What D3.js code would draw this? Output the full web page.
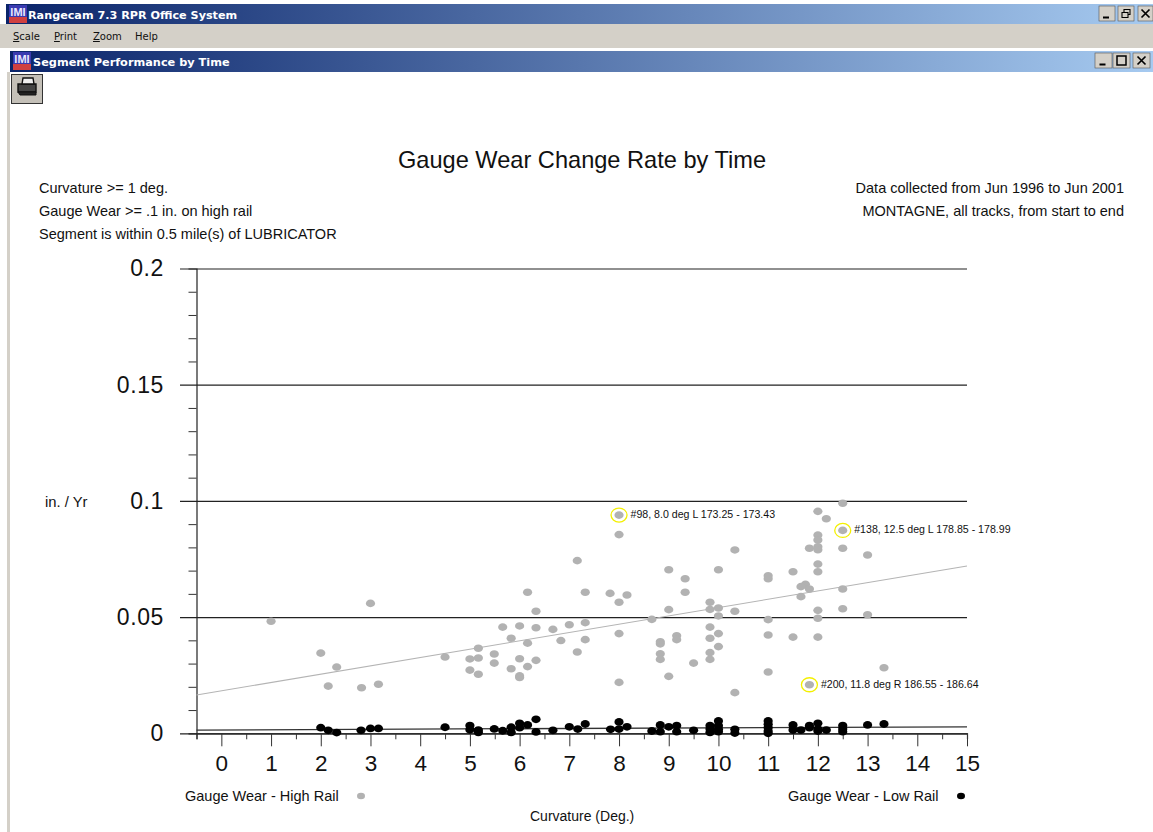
<!DOCTYPE html>
<html>
<head>
<meta charset="utf-8">
<script src="https://cdn.jsdelivr.net/npm/d3@7"></script>
<style>
  html, body { margin:0; padding:0; background:#fff; overflow:hidden; }
  text { font-family:"Liberation Sans", Arial, sans-serif; fill:#111; }
</style>
</head>
<body>
<div id="chart"></div>
<script>
// curvature (deg), wear rate (in/yr)
const highRail = [
  [1,.0482],[3,.0559],[2,.0345],[2.15,.0203],[2.32,.0285],[2.82,.0196],[3.16,.0211],[4.5,.0328],
  [5,.032],[5.17,.0324],[5.17,.0366],[5,.0272],[5.17,.0254],[8,.0939],[8,.0855],[7.16,.0743],
  [6.16,.0607],[7.32,.0607],[7.82,.0602],[8.16,.0595],[8,.0564],[6.33,.0525],[5.66,.0457],[6,.0462],
  [6.33,.0454],[6.67,.0447],[7,.0467],[7.32,.0476],[8,.0429],[5.83,.0409],[6.16,.0388],[6.83,.0399],
  [7.32,.0403],[7.16,.035],[5.49,.0341],[5.49,.0302],[6,.0321],[6.33,.0314],[6.16,.0287],[5.83,.0278],
  [6,.0247],[6,.024],[8,.0219],[8.66,.049],[9,.0532],[9,.0704],[9.33,.0665],[9.33,.0607],
  [10,.0704],[10.33,.0789],[9.83,.0564],[9.83,.0533],[10,.0539],[10,.0505],[10.33,.0525],[9.83,.0457],
  [10,.0429],[9.83,.0409],[10,.0373],[9.83,.0347],[9.83,.0318],[8.83,.0394],[8.83,.0385],[8.83,.0342],
  [8.83,.0318],[9.16,.042],[9.16,.0403],[9.5,.0302],[9,.0245],[10.33,.0175],[12.5,.099],[12,.0955],
  [12.17,.0923],[12.5,.0873],[12,.0853],[12,.0832],[11.83,.0796],[12,.0803],[12,.079],[12.5,.0796],
  [13,.0767],[12,.0728],[12,.0695],[11.5,.0695],[11,.0678],[11,.0665],[11.75,.0641],[11.66,.0631],
  [11.83,.0621],[12.5,.0621],[11.66,.0588],[12,.0529],[12.5,.0536],[13,.051],[11,.0489],[12,.0495],
  [11,.0423],[11.5,.0414],[12,.0414],[13.33,.0282],[11,.0264],[11.83,.0209]
];
const lowRail = [
  [2,.0024],[2.15,.0013],[2.32,.0003],[2.81,.0013],[3,.0021],[3.16,.0021],[4.5,.0026],[5,.0033],
  [5,.0015],[5.17,.0014],[5.17,.0004],[5.49,.0019],[5.66,.0011],[5.83,.0026],[5.83,.0004],[6,.0043],
  [6,.0024],[6.16,.0036],[6.33,.006],[6.33,.0006],[6.67,.0013],[7,.0028],[7.17,.0018],[7.32,.004],
  [7.83,.0017],[8,.0049],[8,.0018],[8.16,.0028],[8.66,.001],[8.83,.0036],[8.83,.0007],[9,.0028],
  [9.16,.0033],[9.16,.0007],[9.5,.0013],[9.83,.0033],[9.83,.0018],[9.83,.0004],[10,.0053],[10,.0033],
  [10,.0017],[10,.0007],[10.33,.0017],[10.33,.0001],[11,.0053],[11,.0039],[11,.0025],[11,.001],
  [11,0],[11.5,.0036],[11.5,.0014],[11.66,.0014],[11.83,.0033],[11.83,.0024],[12,.0043],[12,.0018],
  [12,.001],[12.17,.0014],[12.5,.0033],[12.5,.0018],[12.5,.0007],[13,.0036],[13.33,.004]
];
const highTrend = [[-0.5,.0165],[15,.072]];
const lowTrend = [[-0.5,.0014],[15,.0028]];
const calloutX = [8,12.5,11.83];
const calloutY = [.0939,.0873,.0209];
const calloutText = ['#98, 8.0 deg L 173.25 - 173.43','#138, 12.5 deg L 178.85 - 178.99','#200, 11.8 deg R 186.55 - 186.64'];
const xMajor = d3.range(0,16);
const xMinor = [-0.5,0.5,1.5,2.5,3.5,4.5,5.5,6.5,7.5,8.5,9.5,10.5,11.5,12.5,13.5,14.5];
const yMajor = [0,0.05,0.1,0.15,0.2];
const yLabels = ['0','0.05','0.1','0.15','0.2'];
const yMinor = d3.range(0,21).map(d=>d/100).filter(d=>d%0.05>1e-6 && 0.05-d%0.05>1e-6);
const leftNotes = ['Curvature >= 1 deg.','Gauge Wear >= .1 in. on high rail','Segment is within 0.5 mile(s) of LUBRICATOR'];
const rightNotes = ['Data collected from Jun 1996 to Jun 2001','MONTAGNE, all tracks, from start to end'];

const W = 1153, H = 832;
const svg = d3.select('#chart').append('svg').attr('width',W).attr('height',H).style('display','block');
const defs = svg.append('defs');
const grad = defs.append('linearGradient').attr('id','bar');
grad.append('stop').attr('offset','0').attr('stop-color','#0a246a');
grad.append('stop').attr('offset','1').attr('stop-color','#a6caf0');

// window chrome
function icon(x,y) {
  svg.append('rect').attr('x',x).attr('y',y).attr('width',18).attr('height',18).attr('fill','#3a3ab0');
  svg.append('rect').attr('x',x).attr('y',y+12).attr('width',18).attr('height',6).attr('fill','#d04040');
  svg.append('text').attr('x',x+9).attr('y',y+11).attr('text-anchor','middle').attr('font-size',11)
    .attr('font-weight','bold').style('fill','#e8e8ff').text('IMI');
}
function winButton(x,y,w,kind) {
  svg.append('rect').attr('x',x).attr('y',y).attr('width',w).attr('height',15).attr('fill','#d4d0c8')
    .attr('stroke','#555').attr('stroke-width',0.6);
  const g = svg.append('g').attr('fill','none').attr('stroke','#000').attr('stroke-width',1.5);
  const cx = x+w/2, cy = y+7.5;
  if (kind=='min') g.append('path').attr('d',`M${cx-4},${cy+4}h6`).attr('stroke-width',2);
  if (kind=='max') g.append('rect').attr('x',cx-4.5).attr('y',cy-4.5).attr('width',9).attr('height',9);
  if (kind=='restore') g.append('path').attr('d',`M${cx-4},${cy-1}h6v5h-6zM${cx-2},${cy-1}v-3h6v5h-2`).attr('stroke-width',1.1);
  if (kind=='close') g.append('path').attr('d',`M${cx-4},${cy-4}l8,8M${cx+4},${cy-4}l-8,8`).attr('stroke-width',1.7);
}
svg.append('rect').attr('x',6).attr('y',4).attr('width',W-6).attr('height',20).attr('fill','url(#bar)');
svg.append('rect').attr('x',0).attr('y',24).attr('width',W).attr('height',24).attr('fill','#d4d0c8');
svg.append('rect').attr('x',10).attr('y',51).attr('width',W-10).attr('height',21).attr('fill','url(#bar)');
svg.append('rect').attr('x',7).attr('y',72).attr('width',3).attr('height',H-72).attr('fill','#d4d0c8');
icon(9,5);
icon(13,52);
svg.append('text').attr('x',28).attr('y',19).attr('font-size',11.2).attr('font-weight','bold')
  .style('fill','#fff').style('font-family','"DejaVu Sans"').text('Rangecam 7.3 RPR Office System');
svg.append('text').attr('x',33).attr('y',66).attr('font-size',11.3).attr('font-weight','bold')
  .style('fill','#fff').style('font-family','"DejaVu Sans"').text('Segment Performance by Time');
[['S','cale',13],['P','rint',54],['Z','oom',93],['H','elp',135]].forEach(m=>{
  const t = svg.append('text').attr('x',m[2]).attr('y',40).attr('font-size',10).style('font-family','"DejaVu Sans"');
  t.append('tspan').attr('text-decoration',m[0]=='H'?'none':'underline').text(m[0]);
  t.append('tspan').text(m[1]);
});
winButton(1099,6,16,'min'); winButton(1118,6,16,'restore'); winButton(1138,6,15,'close');
winButton(1095,53,17,'min'); winButton(1113,53,17,'max'); winButton(1133,53,17,'close');
// printer button
svg.append('rect').attr('x',11.5).attr('y',74.5).attr('width',31).attr('height',29).attr('fill','#c4c0b8').attr('stroke','#333');
svg.append('path').attr('d','M18,92h18v-8h-18z').attr('fill','#444').attr('stroke','#111').attr('stroke-width',1.4);
svg.append('path').attr('d','M22,84l1,-6h10l1,6z').attr('fill','#eee').attr('stroke','#111').attr('stroke-width',1.4);
svg.append('path').attr('d','M18,92l2,3h16v-3z').attr('fill','#222').attr('stroke','#111');

// chart
const x = d3.scaleLinear().domain([-0.5,15]).range([196.5,967]);
const y = d3.scaleLinear().domain([0,0.2]).range([733.3,268.5]);

svg.append('g').attr('transform','translate(967,0)')
  .call(d3.axisLeft(y).tickValues(yMajor).tickSize(787).tickFormat(''))
  .call(g=>g.select('.domain').remove())
  .call(g=>g.selectAll('line').attr('stroke','#222').attr('stroke-width',1.2));
svg.append('g').attr('transform','translate(196.5,0)')
  .call(d3.axisLeft(y).tickValues(yMinor).tickSize(8).tickFormat(''))
  .call(g=>g.select('.domain').attr('stroke','#222').attr('stroke-width',1.2))
  .call(g=>g.selectAll('line').attr('stroke','#333'));
svg.append('g').attr('transform','translate(180,0)')
  .call(d3.axisLeft(y).tickValues(yMajor).tickSize(0).tickPadding(16).tickFormat((d,i)=>yLabels[i]))
  .call(g=>g.select('.domain').remove())
  .call(g=>g.selectAll('text').attr('font-size',23).attr('letter-spacing',0.6).style('font-family','"Liberation Sans"'));

svg.append('g').attr('transform','translate(0,733.3)')
  .call(d3.axisBottom(x).tickValues(xMinor).tickSize(6).tickFormat(''))
  .call(g=>g.select('.domain').attr('stroke','#222').attr('stroke-width',1.2))
  .call(g=>g.selectAll('line').attr('stroke','#333'));
svg.append('g').attr('transform','translate(0,733.3)')
  .call(d3.axisBottom(x).tickValues(xMajor).tickSize(13).tickPadding(9).tickFormat(d3.format('d')))
  .call(g=>g.select('.domain').remove())
  .call(g=>g.selectAll('line').attr('stroke','#333'))
  .call(g=>g.selectAll('text').attr('font-size',22.5).style('font-family','"Liberation Sans"'));

const line = d3.line().x(d=>x(d[0])).y(d=>y(d[1]));
svg.append('path').attr('d',line(highTrend)).attr('fill','none').attr('stroke','#b4b4b4').attr('stroke-width',1.1);
svg.append('path').attr('d',line(lowTrend)).attr('fill','none').attr('stroke','#333').attr('stroke-width',1.3);

svg.append('g').selectAll('ellipse').data(highRail).join('ellipse')
  .attr('cx',d=>x(d[0])).attr('cy',d=>y(d[1])).attr('rx',4.6).attr('ry',3.8).attr('fill','#b2b2b2');
svg.append('g').selectAll('ellipse').data(lowRail).join('ellipse')
  .attr('cx',d=>x(d[0])).attr('cy',d=>y(d[1])).attr('rx',4.6).attr('ry',3.9).attr('fill','#000');

// highlighted segments
const callouts = svg.append('g').selectAll('g').data(calloutText).join('g')
  .attr('transform',(d,i)=>`translate(${x(calloutX[i])},${y(calloutY[i])})`);
callouts.append('ellipse').attr('rx',8).attr('ry',7).attr('fill','none').attr('stroke','#f4f000').attr('stroke-width',1.3);
callouts.append('text').attr('x',11.5).attr('y',3).attr('font-size',10.6).text(d=>d);

// text
const txt = (px,py,s,size,anchor) => svg.append('text').attr('x',px).attr('y',py).attr('font-size',size)
  .attr('text-anchor',anchor||'start').text(s);
txt(582,168,'Gauge Wear Change Rate by Time',23.6,'middle');
leftNotes.forEach((s,i)=>txt(39,193+i*23,s,14.5));
rightNotes.forEach((s,i)=>txt(1124,193+i*23,s,14.5,'end'));
txt(45,507,'in. / Yr',14.8);
txt(185,801,'Gauge Wear - High Rail',14.5);
txt(788,801,'Gauge Wear - Low Rail',14.5);
txt(530,821,'Curvature (Deg.)',14);
svg.append('ellipse').attr('cx',361).attr('cy',796).attr('rx',4).attr('ry',3.2).attr('fill','#b2b2b2');
svg.append('ellipse').attr('cx',961).attr('cy',796).attr('rx',4).attr('ry',3.2).attr('fill','#000');
</script>
</body>
</html>
